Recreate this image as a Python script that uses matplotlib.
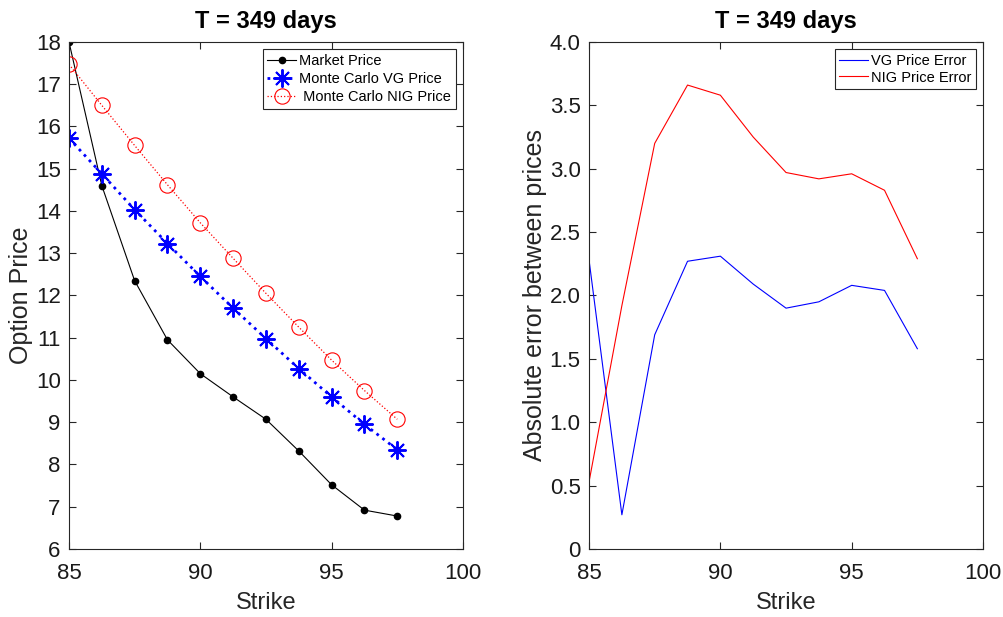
import numpy as np
import matplotlib.pyplot as plt

plt.rcParams['font.family'] = ['Liberation Sans', 'DejaVu Sans']

# Strikes and prices
strikes = [85, 86.25, 87.5, 88.75, 90, 91.25, 92.5, 93.75, 95, 96.25, 97.5]
market_price = [18.0, 14.6, 12.35, 10.95, 10.15, 9.6, 9.07, 8.32, 7.52, 6.92, 6.78]
vg_price = [15.72, 14.88, 14.03, 13.23, 12.45, 11.70, 10.98, 10.27, 9.60, 8.95, 8.35]
nig_price = [17.47, 16.50, 15.55, 14.62, 13.72, 12.88, 12.05, 11.25, 10.47, 9.75, 9.07]

vg_error = [2.28, 0.27, 1.69, 2.27, 2.31, 2.09, 1.90, 1.95, 2.08, 2.04, 1.58]
nig_error = [0.53, 1.92, 3.20, 3.66, 3.58, 3.25, 2.97, 2.92, 2.96, 2.83, 2.29]

x_ticks = [85, 90, 95, 100]
err_ticks = [0, 0.5, 1.0, 1.5, 2.0, 2.5, 3.0, 3.5, 4.0]
err_labels = ['0', '0.5', '1.0', '1.5', '2.0', '2.5', '3.0', '3.5', '4.0']

fig = plt.figure(figsize=(10.04, 6.17), dpi=100)
ax1 = fig.add_axes([0.0687, 0.1102, 0.3924, 0.8218])
ax2 = fig.add_axes([0.5867, 0.1102, 0.3924, 0.8218])

edge = '#262626'

def style(ax):
    ax.tick_params(direction='in', top=True, right=True, labelsize=16,
                   length=5, color=edge, labelcolor='#1a1a1a')
    ax.tick_params(axis='x', pad=10)
    ax.tick_params(axis='y', pad=6)
    for s in ax.spines.values():
        s.set_color(edge)
        s.set_linewidth(0.8)

# Left: prices
ax1.plot(strikes, market_price, '-', color='black', lw=0.8, marker='o', ms=4.5,
         label='Market Price')
ax1.plot(strikes, vg_price, ':', color='blue', lw=2, marker=(8, 2, 0), ms=13,
         markeredgewidth=1.4, label='Monte Carlo VG Price')
ax1.plot(strikes, nig_price, ':', color='red', lw=0.9, marker='o', ms=11,
         mfc='none', markeredgewidth=0.8, label=' Monte Carlo NIG Price')
ax1.set_xlim(85, 100)
ax1.set_ylim(6, 18)
ax1.set_xticks(x_ticks)
ax1.set_yticks(range(6, 19))
style(ax1)
ax1.set_title('T = 349 days', fontsize=17, fontweight='bold', pad=10)
ax1.set_xlabel('Strike', fontsize=17, color='#262626', labelpad=6)
ax1.set_ylabel('Option Price', fontsize=18, color='#262626', labelpad=2)
leg1 = ax1.legend(loc='upper right', fontsize=10.5, fancybox=False, framealpha=1,
                  edgecolor=edge, handlelength=2.0, handletextpad=0.2,
                  borderpad=0.3, labelspacing=0.3, borderaxespad=0.5)
leg1.get_frame().set_linewidth(0.8)

# Right: errors
ax2.plot(strikes, vg_error, '-', color='blue', lw=0.8, label='VG Price Error')
ax2.plot(strikes, nig_error, '-', color='red', lw=0.8, label='NIG Price Error')
ax2.set_xlim(85, 100)
ax2.set_ylim(0, 4)
ax2.set_xticks(x_ticks)
ax2.set_yticks(err_ticks)
ax2.set_yticklabels(err_labels)
style(ax2)
ax2.set_title('T = 349 days', fontsize=17, fontweight='bold', pad=10)
ax2.set_xlabel('Strike', fontsize=17, color='#262626', labelpad=6)
ax2.set_ylabel('Absolute error between prices', fontsize=18, color='#262626', labelpad=2)
leg2 = ax2.legend(loc='upper right', fontsize=10.5, fancybox=False, framealpha=1,
                  edgecolor=edge, handlelength=2.0, handletextpad=0.2,
                  borderpad=0.3, labelspacing=0.2, borderaxespad=0.5)
leg2.get_frame().set_linewidth(0.8)

fig.savefig('out.png', dpi=100)
